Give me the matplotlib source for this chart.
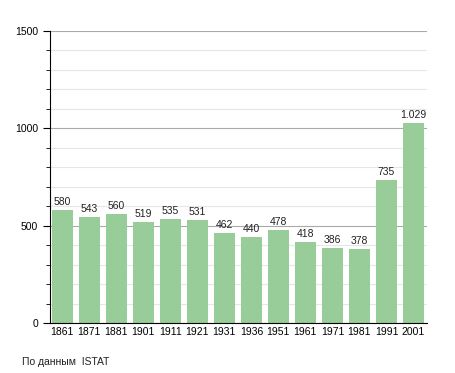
import matplotlib
matplotlib.use("Agg")
import matplotlib.pyplot as plt
from matplotlib.ticker import MultipleLocator

years = ["1861", "1871", "1881", "1901", "1911", "1921", "1931", "1936", "1951", "1961", "1971", "1981", "1991", "2001"]
values = [580, 543, 560, 519, 535, 531, 462, 440, 478, 418, 386, 378, 735, 1029]
labels = ["580", "543", "560", "519", "535", "531", "462", "440", "478", "418", "386", "378", "735", "1.029"]

plt.rcParams['font.family'] = ['Liberation Sans', 'DejaVu Sans']
fig = plt.figure(figsize=(4.55, 3.73), dpi=100)
ax = fig.add_axes([50/455, 50/373, 377/455, 292/373])

x = list(range(len(years)))
ax.bar(x, values, width=0.78, color="#98cc98", zorder=2)
for xi, v, lab in zip(x, values, labels):
    ax.text(xi, v + 15, lab, ha="center", va="bottom", fontsize=7.5, color="#222222", zorder=3)

ax.set_xlim(-0.45, 13.5)
ax.set_ylim(0, 1500)
ax.yaxis.set_major_locator(MultipleLocator(500))
ax.yaxis.set_minor_locator(MultipleLocator(100))
ax.grid(axis="y", which="major", color="#aaaaaa", linewidth=0.8, zorder=0)
ax.grid(axis="y", which="minor", color="#e6e6e6", linewidth=0.8, zorder=0)
ax.set_xticks(x)
ax.set_xticklabels(years)
ax.tick_params(axis="x", length=0, labelsize=7.5, pad=3)
ax.tick_params(axis="y", which="major", length=5, labelsize=7.5, direction="out")
ax.tick_params(axis="y", which="minor", length=3, direction="out")
for s in ["top", "right"]:
    ax.spines[s].set_visible(False)
ax.spines["left"].set_color("black")
ax.spines["bottom"].set_color("black")

fig.text(22/455, 1 - 362/373, "По данным  ISTAT", fontsize=7.5, va="center", ha="left", color="#222222")
fig.savefig("out.png", dpi=100)
